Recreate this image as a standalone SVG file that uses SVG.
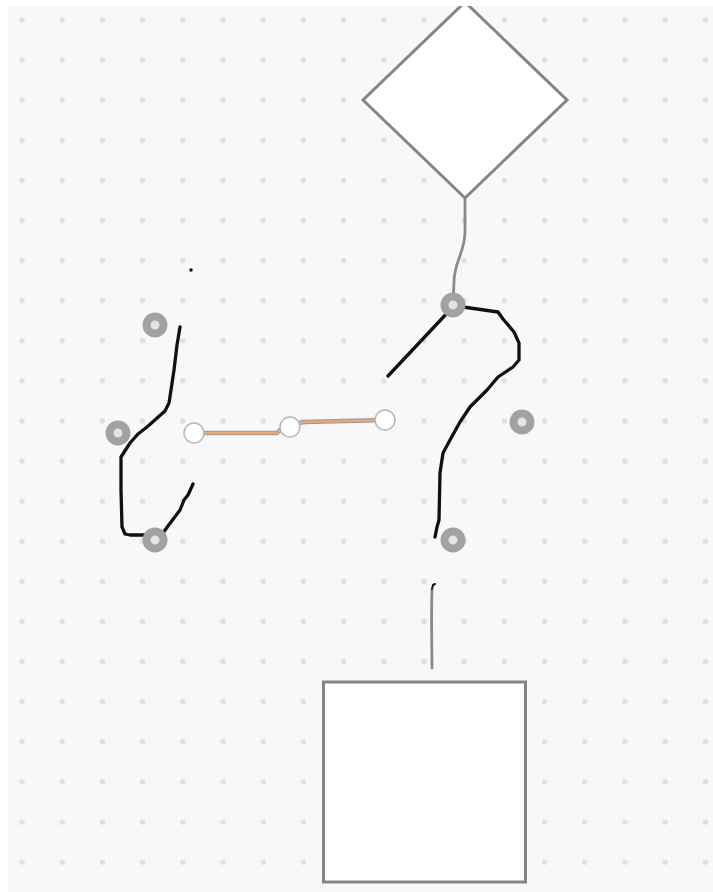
<svg xmlns="http://www.w3.org/2000/svg" width="713" height="892" viewBox="0 0 713 892">
<style>
.shape{fill:#ffffff;stroke:#858585;stroke-width:3}
.conn{fill:none;stroke:#8a8a8a;stroke-width:2.8;stroke-linecap:round;stroke-linejoin:round}
.ink{fill:none;stroke:#111111;stroke-width:3.3;stroke-linecap:round;stroke-linejoin:round}
.ring{fill:#e4e4e4;stroke:#a2a2a2;stroke-width:8}
.knob{fill:#ffffff;stroke:#b8b8b8;stroke-width:1.5}
</style>
<defs>
<pattern id="dots" patternUnits="userSpaceOnUse" x="1.9" y="-0.05" width="40.2" height="40.1">
<circle cx="20.1" cy="20.05" r="2.7" fill="#dedee3"/>
</pattern>
<clipPath id="canvas"><rect x="8" y="6" width="705" height="886"/></clipPath>
</defs>
<rect x="0" y="0" width="713" height="892" fill="#ffffff"/>
<g clip-path="url(#canvas)">
<rect x="8" y="6" width="705" height="886" fill="#f8f8fb"/>
<rect x="8" y="6" width="705" height="886" fill="url(#dots)"/>
<g id="connectors">
<path class="conn" d="M465,199 L465,232 C465,252 454,262 454,282 L453,305"/>
<path class="conn" d="M432,590 C431,620 432,645 432,668"/>
<path d="M432,589 L433,585 L435,584" fill="none" stroke="#111" stroke-width="2" stroke-linecap="round"/>
<path d="M194,433 L277,433 L281,429 L290,427 L298,423 L305,422 L385,420" fill="none" stroke="#9a9a9a" stroke-width="4.5" stroke-linejoin="round"/>
<path d="M194,433 L277,433 L281,429 L290,427 L298,423 L305,422 L385,420" fill="none" stroke="#eaa878" stroke-width="2.5" stroke-linejoin="round"/>
</g>
<g id="diamond">
<polygon class="shape" points="465,2 567,100 465,198 363,100"/>
</g>
<g id="square">
<rect class="shape" x="323.5" y="682" width="202" height="200"/>
</g>
<g id="ink-left">
<path class="ink" d="M180,327 L177,345 L174,370 L171,390 L169,403 L165,411 L156,419 L147,427 L138,434 L130,443 L121,457 L121,490 L122,527 L125,534 L130,535 L146,535 L163,533 L168,526 L180,510 L184,500 L188,495 L193,484"/>
<circle cx="191" cy="270" r="1.8" fill="#111"/>
</g>
<g id="ink-right">
<path class="ink" d="M388,376 L450,310 L463,307 L498,312 L503,319 L514,332 L519,343 L519,360 L513,367 L498,377 L487,390 L470,407 L460,422 L450,440 L443,453 L440,473 L439,520 L437,527 L435,537"/>
</g>
<g id="handles">
<circle class="ring" cx="155" cy="325" r="8.5"/>
<circle class="ring" cx="118" cy="433" r="8.5"/>
<circle class="ring" cx="155" cy="540" r="8.5"/>
<circle class="ring" cx="453" cy="305" r="8.5"/>
<circle class="ring" cx="522" cy="422" r="8.5"/>
<circle class="ring" cx="453" cy="540" r="8.5"/>
</g>
<g id="waypoints">
<circle class="knob" cx="194" cy="433" r="10"/>
<circle class="knob" cx="290" cy="427" r="10"/>
<circle class="knob" cx="385" cy="420" r="10"/>
</g>
</g>
</svg>
